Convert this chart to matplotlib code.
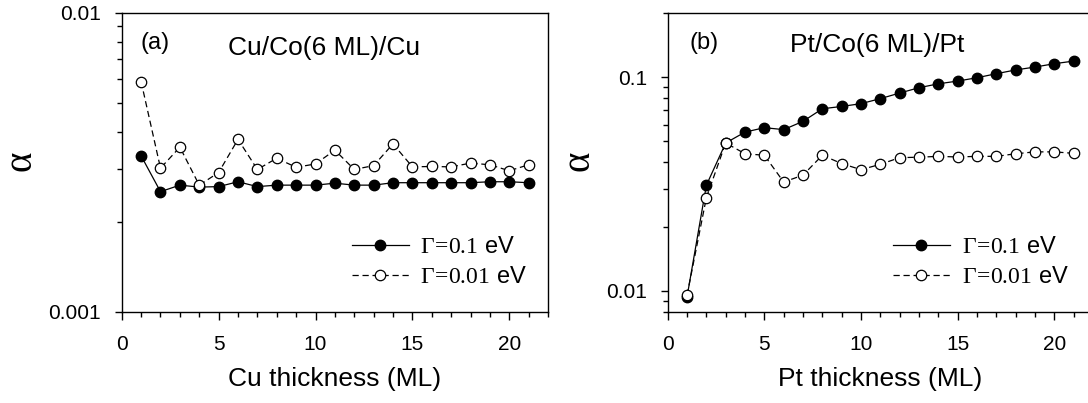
import matplotlib
matplotlib.use("Agg")
import matplotlib.pyplot as plt
from matplotlib.ticker import MultipleLocator, LogLocator, FuncFormatter, NullFormatter

plt.rcParams['font.family'] = ['Liberation Sans', 'DejaVu Sans']
plt.rcParams['mathtext.fontset'] = 'custom'
plt.rcParams['mathtext.rm'] = 'Liberation Serif'
plt.rcParams['mathtext.it'] = 'Liberation Serif:italic'

# thickness in monolayers
thickness = list(range(1, 22))

# Cu/Co(6 ML)/Cu damping
cu_g01 = [0.00332, 0.00252, 0.00265, 0.00261, 0.00262, 0.00272, 0.00262, 0.00265,
          0.00265, 0.00265, 0.00269, 0.00265, 0.00265, 0.00270, 0.00270, 0.00270,
          0.00270, 0.00270, 0.00272, 0.00272, 0.00270]
cu_g001 = [0.00588, 0.00302, 0.00355, 0.00265, 0.00292, 0.00377, 0.00299, 0.00326,
           0.00304, 0.00312, 0.00347, 0.00299, 0.00308, 0.00364, 0.00305, 0.00306,
           0.00305, 0.00314, 0.00310, 0.00296, 0.00310]

# Pt/Co(6 ML)/Pt damping
pt_g01 = [0.00938, 0.0312, 0.0492, 0.0553, 0.0580, 0.0568, 0.0621, 0.0711, 0.0729,
          0.0751, 0.0793, 0.0842, 0.0892, 0.0930, 0.0958, 0.0993, 0.1037, 0.1080,
          0.1114, 0.1155, 0.1188]
pt_g001 = [0.00955, 0.0273, 0.0492, 0.0438, 0.0431, 0.0323, 0.0348, 0.0431, 0.0394,
           0.0369, 0.0391, 0.0420, 0.0422, 0.0426, 0.0423, 0.0426, 0.0426, 0.0438,
           0.0447, 0.0447, 0.0440]

labels = [r'$\mathrm{\Gamma\!=\!0.1}$ eV', r'$\mathrm{\Gamma\!=\!0.01}$ eV']

fig = plt.figure(figsize=(10.88, 4.03), dpi=100)
ax1 = fig.add_axes([0.1119, 0.2266, 0.3918, 0.7419])
ax2 = fig.add_axes([0.6137, 0.2266, 0.3909, 0.7419])


def style_axis(ax, ylim, xlabel, tag, title, tag_xy, title_xy, leg_xy):
    ax.plot(thickness, ylim[2], color='black', lw=0.9, marker='o', ms=7.5,
            mfc='black', mec='black', label=labels[0])
    ax.plot(thickness, ylim[3], color='black', lw=0.9, ls=(0, (5, 3)), marker='o',
            ms=7.5, mfc='white', mec='black', mew=0.9, label=labels[1])
    ax.set_yscale('log')
    ax.set_xlim(0, 22)
    ax.set_ylim(ylim[0], ylim[1])
    ax.xaxis.set_major_locator(MultipleLocator(5))
    ax.xaxis.set_minor_locator(MultipleLocator(1))
    ax.yaxis.set_major_locator(LogLocator(base=10))
    ax.yaxis.set_minor_locator(LogLocator(base=10, subs=range(2, 10)))
    ax.yaxis.set_major_formatter(FuncFormatter(lambda v, p: '%g' % v))
    ax.yaxis.set_minor_formatter(NullFormatter())
    ax.tick_params(axis='x', which='major', direction='out', length=6, width=1,
                   labelsize=15, pad=11)
    ax.tick_params(axis='x', which='minor', direction='out', length=3.8, width=1)
    ax.tick_params(axis='y', which='major', direction='out', length=5, width=1,
                   labelsize=15, pad=10)
    ax.tick_params(axis='y', which='minor', direction='out', length=3.6, width=1)
    for s in ax.spines.values():
        s.set_linewidth(1.0)
    ax.set_xlabel(xlabel, fontsize=19, labelpad=9)
    ax.set_ylabel(r'$\mathrm{\alpha}$', fontsize=28, labelpad=6)
    ax.text(tag_xy[0], tag_xy[1], tag, transform=ax.transAxes, fontsize=17,
            va='baseline', ha='left')
    ax.text(title_xy[0], title_xy[1], title, transform=ax.transAxes, fontsize=19,
            va='baseline', ha='left')
    ax.legend(loc='upper left', bbox_to_anchor=leg_xy, frameon=False, fontsize=17,
              borderpad=0, borderaxespad=0, handlelength=2.4, handletextpad=0.5,
              labelspacing=0.32)


style_axis(ax1, (0.001, 0.01, cu_g01, cu_g001), 'Cu thickness (ML)', '(a)',
           'Cu/Co(6 ML)/Cu', (0.043, 0.88), (0.25, 0.8585), (0.54, 0.252))
style_axis(ax2, (0.008, 0.2, pt_g01, pt_g001), 'Pt thickness (ML)', '(b)',
           'Pt/Co(6 ML)/Pt', (0.052, 0.878), (0.2876, 0.87), (0.53, 0.252))

fig.savefig('out.png', dpi=100)
